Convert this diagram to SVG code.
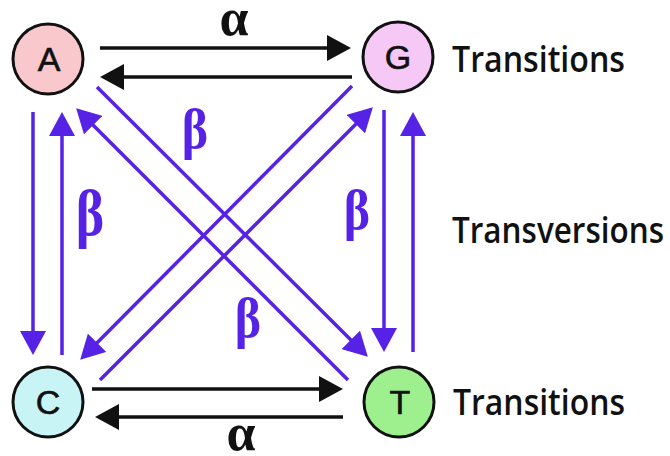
<svg xmlns="http://www.w3.org/2000/svg" width="670" height="456" viewBox="0 0 670 456">
  <defs>
    <style>
      .node { stroke: #111; stroke-width: 3; }
      .nlabel { font-family: "Liberation Sans", Arial, sans-serif; font-size: 34px; fill: #111; stroke: #111; stroke-width: 0.6; text-anchor: middle; }
      .black { stroke: #111; stroke-width: 3.5; fill: none; marker-end: url(#hb); }
      .blue { stroke: #5522e6; stroke-width: 3.5; fill: none; marker-end: url(#hu); }
      .greek { font-family: "Liberation Serif", "Times New Roman", serif; font-weight: bold; font-size: 50px; text-anchor: middle; }
      .alpha { fill: #111; }
      .beta { fill: #5522e6; }
      .side { font-family: "Open Sans", "Liberation Sans", sans-serif; font-weight: 600; font-size: 33px; fill: #111; }
    </style>
    <marker id="hb" viewBox="0 0 24 26" refX="20" refY="13" markerWidth="24" markerHeight="26" markerUnits="userSpaceOnUse" orient="auto">
      <path d="M0,0 L24,13 L0,26 Z" fill="#111"/>
    </marker>
    <marker id="hu" viewBox="0 0 24 26" refX="20" refY="13" markerWidth="24" markerHeight="26" markerUnits="userSpaceOnUse" orient="auto">
      <path d="M0,0 L24,13 L0,26 Z" fill="#5522e6"/>
    </marker>
  </defs>
  <rect width="670" height="456" fill="#fff"/>

  <g id="connectors">
    <line class="black" x1="100" y1="48" x2="347" y2="48"/>
    <line class="black" x1="352" y1="77" x2="104" y2="77"/>
    <line class="black" x1="92" y1="389" x2="339" y2="389"/>
    <line class="black" x1="343" y1="417" x2="99" y2="417"/>

    <line class="blue" x1="33" y1="112" x2="33" y2="351"/>
    <line class="blue" x1="62" y1="355" x2="62" y2="116"/>
    <line class="blue" x1="384" y1="110" x2="384" y2="348"/>
    <line class="blue" x1="413" y1="352" x2="413" y2="116"/>

    <line class="blue" x1="97" y1="87" x2="365" y2="354"/>
    <line class="blue" x1="348" y1="380" x2="79" y2="111"/>
    <line class="blue" x1="352" y1="86" x2="83" y2="357"/>
    <line class="blue" x1="100" y1="380" x2="370" y2="110"/>

    <text class="greek alpha" x="234" y="35" style="font-size:52px">α</text>
    <text class="greek alpha" x="241" y="450" style="font-size:52px">α</text>
    <text class="greek beta" transform="translate(195,148) scale(1,1.15)">β</text>
    <text class="greek beta" transform="translate(248,337) scale(1,1.15)">β</text>
    <text class="greek beta" transform="translate(357,229) scale(1,1.12)">β</text>
    <text class="greek beta" transform="translate(90,235) scale(1,1.2)" style="font-size:54px">β</text>
  </g>

  <g id="A">
    <circle class="node" cx="48" cy="59" r="35" fill="#f8c8cc"/>
    <text class="nlabel" x="49" y="71">A</text>
  </g>
  <g id="G">
    <circle class="node" cx="398" cy="57" r="35" fill="#f6c8f6"/>
    <text class="nlabel" x="398" y="69">G</text>
  </g>
  <g id="C">
    <circle class="node" cx="48" cy="402" r="35" fill="#c8f4f6"/>
    <text class="nlabel" x="48" y="414">C</text>
  </g>
  <g id="T">
    <circle class="node" cx="399" cy="402" r="35" fill="#9ef08e"/>
    <text class="nlabel" x="400" y="414">T</text>
  </g>

  <g id="labels">
    <text class="side" transform="translate(452,72) scale(1,1.12)" textLength="173" lengthAdjust="spacingAndGlyphs">Transitions</text>
    <text class="side" transform="translate(452,243) scale(1,1.19)" style="font-size:30px" textLength="212" lengthAdjust="spacingAndGlyphs">Transversions</text>
    <text class="side" transform="translate(453,415) scale(1,1.12)" textLength="172" lengthAdjust="spacingAndGlyphs">Transitions</text>
  </g>
</svg>
